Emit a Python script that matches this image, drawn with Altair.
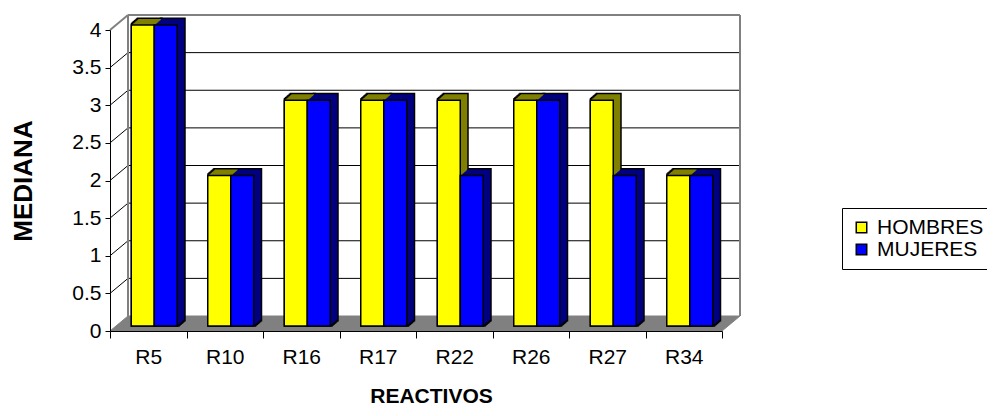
import altair as alt
import pandas as pd

categories = ["R5", "R10", "R16", "R17", "R22", "R26", "R27", "R34"]
hombres = [4, 2, 3, 3, 3, 3, 3, 2]
mujeres = [4, 2, 3, 3, 2, 3, 2, 2]
series_names = ["HOMBRES", "MUJERES"]
front_colors = ["#FFFF00", "#0000FF"]
side_colors = ["#808000", "#000080"]
y_ticks = [0, 0.5, 1, 1.5, 2, 2.5, 3, 3.5, 4]
y_max = 4

# layout (pixels)
W, H = 612, 301
N = len(categories)
XU = W / N
YU = H / y_max
WALL_DX, WALL_DY = 18, 15
BAR_POS_DX, BAR_POS_DY = 6, 5
BAR_DX, BAR_DY = 7, 6
BAR_W = 23 / XU
FONT = "Liberation Sans"
GRAY = "#808080"

rows, stack = [], []
for i, c in enumerate(categories):
    for s, (name, vals) in enumerate(zip(series_names, [hombres, mujeres])):
        x0 = i + (1 - 2 * BAR_W) / 2 + s * BAR_W
        v = vals[i]
        rows.append(dict(cat=c, serie=name, x=x0, x2=x0 + BAR_W, v=v, base=0.0))
        for k in range(1, BAR_DX + 1):
            sx = k / XU
            sy = k * BAR_DY / BAR_DX / YU
            stack.append(dict(x=x0 + sx, x2=x0 + BAR_W + sx, v=v + sy, base=sy,
                              dark=side_colors[s]))
bars_df = pd.DataFrame(rows)
stack_df = pd.DataFrame(stack)

dxu = WALL_DX / XU
dyu = WALL_DY / YU
floor_df = pd.DataFrame({"x": [0, dxu, N, N + dxu],
                         "v": [0, 0, 0, dyu],
                         "y2": [0, dyu, dyu, dyu]})
inner_ticks = [t for t in y_ticks if 0 < t < y_max]
grid_df = pd.DataFrame({"v": inner_ticks, "x": [0] * len(inner_ticks), "x1": [N] * len(inner_ticks)})

xscale = alt.Scale(domain=[0, N], nice=False, zero=False)
yscale = alt.Scale(domain=[0, y_max], nice=False, zero=True)

cat_list = "[" + ",".join("'%s'" % c for c in categories) + "]"

x_axis = alt.Axis(values=list(range(N + 1)), labelExpr=f"datum.value < {N} ? {cat_list}[floor(datum.value)] : ''",
                  labelOffset=XU / 2, tickSize=7, tickColor="black", domainColor="black",
                  labelFont=FONT, labelFontSize=21, labelColor="black", labelPadding=8,
                  labelFlush=False, labelOverlap=False, grid=False, zindex=1,
                  title="REACTIVOS", titleFont=FONT, titleFontSize=21, titleFontWeight="bold",
                  titleColor="black", titleX=321, titleY=71, titleBaseline="alphabetic",
                  titleAlign="center")
y_axis = alt.Axis(values=y_ticks, format="~g", tickSize=5, tickColor="black", domainColor="black",
                  labelFont=FONT, labelFontSize=21, labelColor="black", labelPadding=4,
                  grid=False, zindex=1,
                  title="MEDIANA", titleFont=FONT, titleFontSize=26, titleFontWeight="bold",
                  titleColor="black", titleX=-87, titleY=H / 2, titleAngle=270,
                  titleAlign="center", titleBaseline="middle")


def X(field):
    return alt.X(field, scale=xscale, axis=x_axis)


def Y(field):
    return alt.Y(field, scale=yscale, axis=y_axis)


floor = alt.Chart(floor_df).mark_area(color=GRAY, orient="vertical", stroke=GRAY, strokeWidth=1).encode(
    x=X("x:Q"), y=Y("v:Q"), y2="y2:Q",
)

wall_off = dict(xOffset=WALL_DX, x2Offset=WALL_DX, yOffset=-WALL_DY, y2Offset=-WALL_DY)
back_grid = alt.Chart(grid_df).mark_rule(color="black", strokeWidth=1, **wall_off).encode(
    x=X("x:Q"), x2="x1:Q", y=Y("v:Q"),
)
side_grid = alt.Chart(grid_df).mark_rule(color="black", strokeWidth=1,
                                         x2Offset=WALL_DX, y2Offset=-WALL_DY).encode(
    x=X("x:Q"), x2="x:Q", y=Y("v:Q"), y2="v:Q",
)
border_df = pd.DataFrame({"x": [0, 0, N], "xb": [N, 0, N], "v": [y_max, 0, 0], "yb": [y_max, y_max, y_max]})
back_border = alt.Chart(border_df).mark_rule(color=GRAY, strokeWidth=2, **wall_off).encode(
    x=X("x:Q"), x2="xb:Q", y=Y("v:Q"), y2="yb:Q",
)
top_diag_df = pd.DataFrame({"x": [0], "v": [y_max]})
top_diag = alt.Chart(top_diag_df).mark_rule(color=GRAY, strokeWidth=2,
                                            x2Offset=WALL_DX, y2Offset=-WALL_DY).encode(
    x=X("x:Q"), x2="x:Q", y=Y("v:Q"), y2="v:Q",
)

bar_off = dict(xOffset=BAR_POS_DX, x2Offset=BAR_POS_DX, yOffset=-BAR_POS_DY, y2Offset=-BAR_POS_DY)
stack_enc = dict(
    x=X("x:Q"), x2="x2:Q", y=Y("v:Q"), y2="base:Q",
    fill=alt.Fill("dark:N", scale=None),
)
stack_stroke = alt.Chart(stack_df).mark_rect(stroke="black", strokeWidth=3, **bar_off).encode(**stack_enc)
stack_fill = alt.Chart(stack_df).mark_rect(strokeWidth=0, **bar_off).encode(**stack_enc)

front = alt.Chart(bars_df).mark_rect(stroke="black", strokeWidth=1.5, **bar_off).encode(
    x=X("x:Q"), x2="x2:Q", y=Y("v:Q"), y2="base:Q",
    fill=alt.Fill("serie:N", scale=alt.Scale(domain=series_names, range=front_colors),
                  legend=alt.Legend(title=None, orient="none", legendX=732, legendY=178,
                                    symbolType="square", symbolSize=110,
                                    symbolStrokeColor="black", symbolStrokeWidth=1.5,
                                    labelFont=FONT, labelFontSize=21, labelColor="black",
                                    fillColor="white", strokeColor="black",
                                    padding=9, rowPadding=0, labelOffset=5)),
)

chart = alt.layer(floor, back_grid, side_grid, back_border, top_diag,
                  stack_stroke, stack_fill, front).properties(
    width=W, height=H,
    autosize=alt.AutoSizeParams(type="none"),
    padding={"left": 102, "top": 22, "right": 265, "bottom": 77},
    background="white",
).configure_view(stroke=None)

chart.save("out.html", embed_options={"renderer": "svg", "actions": False})
